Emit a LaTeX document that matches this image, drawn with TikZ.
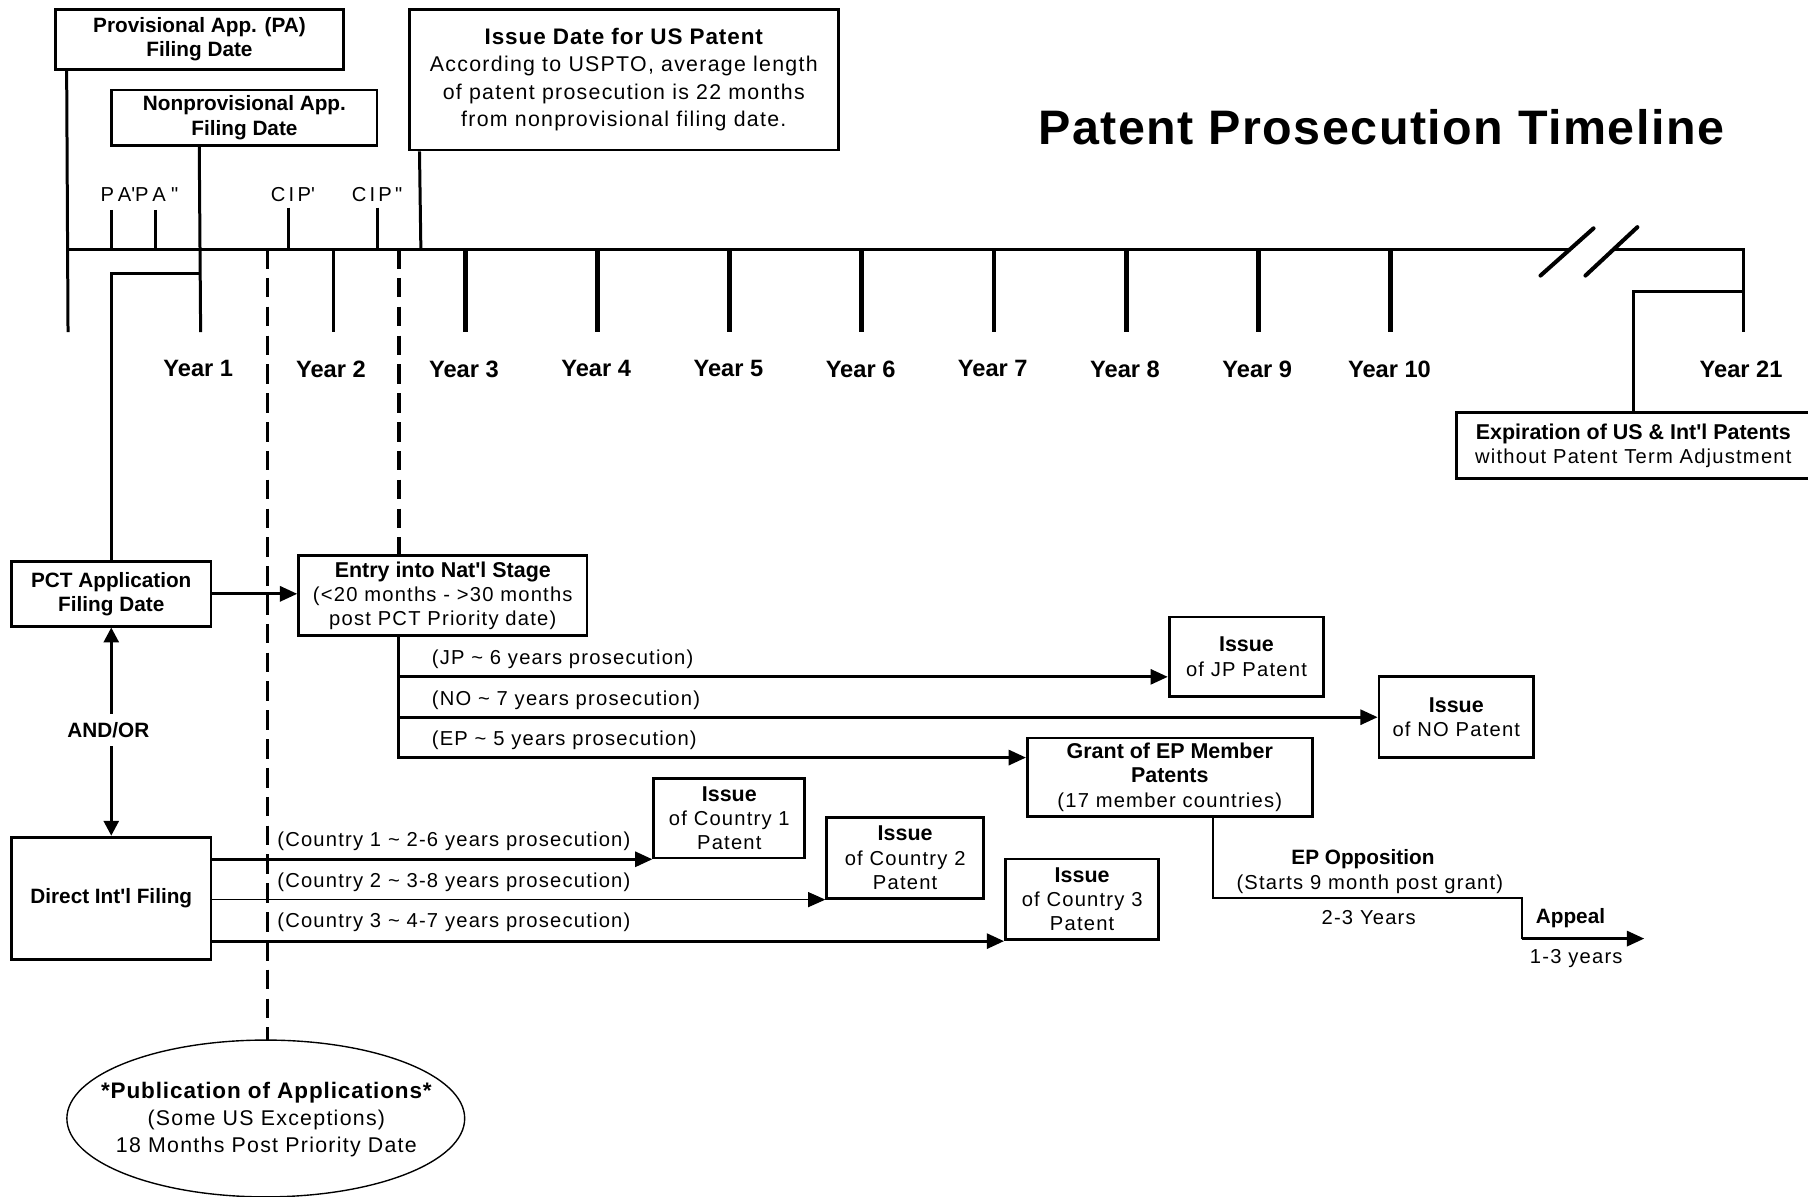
\documentclass[tikz,border=0pt]{standalone}
\usepackage{fontspec}
\setmainfont{Liberation Sans}
\newfontfamily\spacedfam[LetterSpace=6]{Liberation Sans}
\newfontfamily\tickfam[LetterSpace=16]{Liberation Sans}
\newfontfamily\tickwidefam[LetterSpace=26]{Liberation Sans}
\newfontfamily\widefam[LetterSpace=4]{Liberation Sans}
\newfontfamily\headfam[LetterSpace=3]{Liberation Sans}
\usetikzlibrary{arrows.meta}

% text styles
\newcommand\labB{\fontsize{18}{21}\selectfont\rmfamily\bfseries}
\newcommand\labE{\fontsize{18.6}{21}\selectfont\rmfamily\bfseries}
\newcommand\labS{\fontsize{17.5}{21}\selectfont\spacedfam}
\newcommand\labK{\fontsize{17.5}{21}\selectfont\tickfam}
\newcommand\labKW{\fontsize{17.5}{21}\selectfont\tickwidefam}
\newcommand\labM{\fontsize{18.5}{23.5}\selectfont\spacedfam}
\newcommand\labW{\fontsize{19.5}{23}\selectfont\widefam\bfseries}
\newcommand\labY{\fontsize{20.5}{24}\selectfont\rmfamily\bfseries}
\newcommand\labT{\fontsize{42}{48}\selectfont\headfam\bfseries}

\tikzset{
  box/.style={draw, line width=2.4, fill=white, inner sep=0, align=center},
  ln/.style={line width=2.6},
  tk/.style={line width=4.2},
  arr/.style={line width=2.6, -{Triangle[length=15pt,width=13pt]}},
  thinarr/.style={line width=1.3, -{Triangle[length=15pt,width=13pt]}},
  dbl/.style={line width=2.6, {Triangle[length=13pt,width=13pt]}-{Triangle[length=13pt,width=13pt]}},
  dashA/.style={line width=2.6, dash pattern=on 17pt off 8pt},
  dashB/.style={line width=4, dash pattern=on 17pt off 8pt},
  brk/.style={line width=3.5, line cap=round},
}

\begin{document}
\begin{tikzpicture}[x=1pt, y=-1pt]
\useasboundingbox (0,0) rectangle (1568,1038);

% heading
\node[font=\labT] (title) at (1198,110) {Patent Prosecution Timeline};

% filing and issue boxes above the axis
\node[box, minimum width=250, minimum height=52, font=\labB] (pa) at (173,34)
  {Provisional App. (PA)\\Filing Date};
\node[box, minimum width=230, minimum height=48, font=\labB] (np) at (212,102)
  {Nonprovisional App.\\Filing Date};
\node[box, minimum width=372, minimum height=122, font=\labM] (iss) at (541,69)
  {{\labW Issue Date for US Patent}\\According to USPTO, average length\\of patent prosecution is 22 months\\from nonprovisional filing date.};

% time axis with break
\coordinate (tlA) at (59,216);
\coordinate (brkL) at (1362,216);
\coordinate (brkR) at (1400,216);
\coordinate (tlEnd) at (1512,216);
\coordinate (y21) at (1512,288);
\draw[ln] (tlA) -- (brkL);
\draw[ln] (brkR) -- (tlEnd) -- (y21);
\draw[brk] (1336,239) -- (1382,198);
\draw[brk] (1375,239) -- (1420,197);

% filing markers
\coordinate (y0) at (59,288);
\coordinate (y1) at (174,288);
\draw[ln] ([xshift=11]pa.south west) -- (y0);
\draw[ln] ([xshift=77]np.south west) -- (y1);
\coordinate (issT) at (365,216);
\draw[ln] ([xshift=10]iss.south west) -- (issT);

% small ticks above the axis
\draw[ln] (97,182) -- (97,216);
\draw[ln] (135,182) -- (135,216);
\draw[ln] (250,180) -- (250,216);
\draw[ln] (327,180) -- (327,216);
\node[font=\labKW] (papa) at (121,169) {PA\textquotesingle PA"};
\node[font=\labK] (cipa) at (254,169) {CIP\textquotesingle};
\node[font=\labK] (cipb) at (327,169) {CIP"};

% year ticks and labels
\draw[ln] (289,216) -- (289,288);
\node[font=\labY] (yl1) at (172,320) {Year 1};
\node[font=\labY] (yl2) at (287,320) {Year 2};
\foreach \n in {3,...,10} {
  \pgfmathsetmacro\xx{174+(\n-1)*114.67}
  \draw[tk] (\xx,216) -- (\xx,288);
  \node[font=\labY] (yl\n) at (\xx-1,320) {Year \n};
}
\node[font=\labY] (yl21) at (1510,320) {Year 21};

% expiration
\node[box, minimum width=307, minimum height=57, font=\labS] (exp) at (1416.5,386.5)
  {{\labE Expiration of US \& Int\textquotesingle l Patents}\\without Patent Term Adjustment};
\coordinate (y21j) at (1512,253);
\draw[ln] (y21j) -| (exp.north);

% publication of applications
\node[inner sep=0, align=center, font=\labM] (pub) at (231,971)
  {{\labW *Publication of Applications*}\\(Some US Exceptions)\\18 Months Post Priority Date};
\draw[line width=1.2] (230.5,970) ellipse [x radius=172.5, y radius=68];
\coordinate (pubtop) at (232,902);
\coordinate (d1) at (232,216);
\coordinate (d2) at (346,216);
\draw[dashA] (d1) -- (pubtop);

% PCT route
\node[box, minimum width=173, minimum height=56, font=\labB] (pct) at (96.5,515)
  {PCT Application\\Filing Date};
\node[box, minimum width=250, minimum height=69, font=\labS] (entry) at (384,516.5)
  {{\labE Entry into Nat\textquotesingle l Stage}\\(<20 months - >30 months\\post PCT Priority date)};
\draw[dashB] (d2) -- (d2 |- entry.north);
\coordinate (pctj) at (174,237);
\draw[ln] (pct.north) |- (pctj);
\draw[arr] (pct.east) -- (pct.east -| entry.west);

\node[box, minimum width=134, minimum height=69, font=\labS] (jp) at (1081,569.5)
  {{\labE Issue}\\of JP Patent};
\node[box, minimum width=134, minimum height=70, font=\labS] (no) at (1263,622)
  {{\labE Issue}\\of NO Patent};
\node[box, minimum width=247, minimum height=68, font=\labS] (ep) at (1014.5,674)
  {{\labE Grant of EP Member}\\{\labE Patents}\\(17 member countries)};

\coordinate (eb) at (d2 |- entry.south);
\draw[arr] (eb) -- (346,657) -- (346,657 -| ep.west);
\draw[arr] (346,587) -- (346,587 -| jp.west);
\draw[arr] (346,622) -- (346,622 -| no.west);
\node[font=\labS, anchor=west] (ljp) at (371,572) {(JP \textasciitilde{} 6 years prosecution)};
\node[font=\labS, anchor=west] (lno) at (371,607) {(NO \textasciitilde{} 7 years prosecution)};
\node[font=\labS, anchor=west] (lep) at (371,642) {(EP \textasciitilde{} 5 years prosecution)};

% EP opposition and appeal
\coordinate (opp) at (1320,779);
\coordinate (app) at (1320,814);
\coordinate (appEnd) at (1426,814);
\draw[line width=1.6] ([xshift=37.5]ep.south) |- (opp) -- (app);
\draw[arr] (app) -- (appEnd);
\node[font=\labB] (eopp) at (1182,745) {EP Opposition};
\node[font=\labS] (estart) at (1188,767) {(Starts 9 month post grant)};
\node[font=\labS] (etwo) at (1187,796) {2-3 Years};
\node[font=\labB] (appeal) at (1362,796) {Appeal};
\node[font=\labS] (aone) at (1367,831) {1-3 years};

% direct international filing
\node[box, minimum width=173, minimum height=106, font=\labB] (direct) at (96.5,779)
  {Direct Int\textquotesingle l Filing};
\draw[dbl] (pct.south) -- (direct.north);
\node[fill=white, font=\labB, inner xsep=2, inner ysep=7] (andor) at (94,633) {AND/OR};

\node[box, minimum width=131, minimum height=69, font=\labS] (c1) at (632.5,709.5)
  {{\labE Issue}\\of Country 1\\Patent};
\node[box, minimum width=136, minimum height=70, font=\labS] (c2) at (785,744)
  {{\labE Issue}\\of Country 2\\Patent};
\node[box, minimum width=133, minimum height=70, font=\labS] (c3) at (938.5,780)
  {{\labE Issue}\\of Country 3\\Patent};
\draw[arr] (direct.east |- c1.south west) -- (c1.south west);
\draw[thinarr] (direct.east |- c2.south west) -- (c2.south west);
\draw[arr] (direct.east |- c3.south west) -- (c3.south west);
\node[font=\labS, anchor=west] (lc1) at (237,730) {(Country 1 \textasciitilde{} 2-6 years prosecution)};
\node[font=\labS, anchor=west] (lc2) at (237,765) {(Country 2 \textasciitilde{} 3-8 years prosecution)};
\node[font=\labS, anchor=west] (lc3) at (237,800) {(Country 3 \textasciitilde{} 4-7 years prosecution)};

\end{tikzpicture}
\end{document}
